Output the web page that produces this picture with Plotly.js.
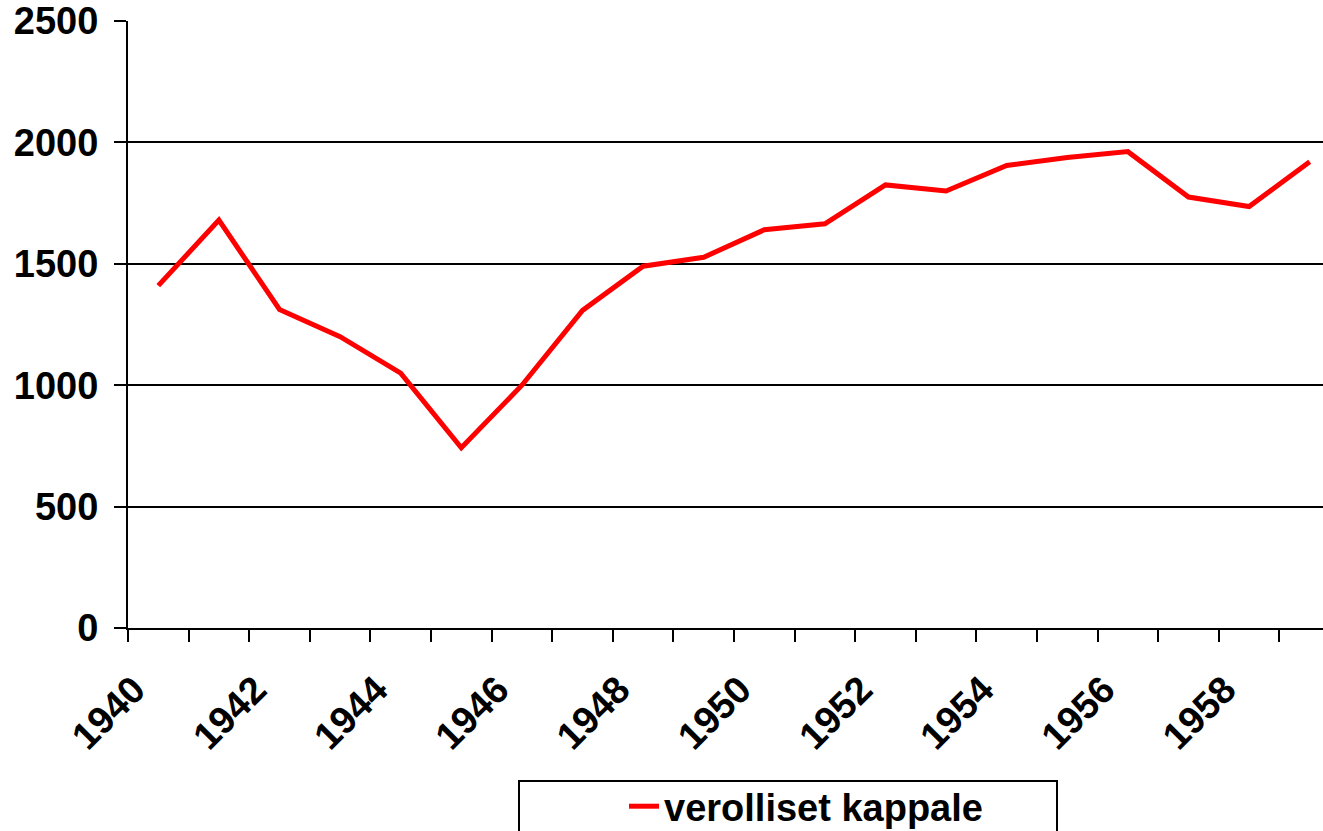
<!DOCTYPE html>
<html>
<head>
<meta charset="utf-8">
<script src="https://cdn.plot.ly/plotly-3.0.1.min.js"></script>
<style>
html,body{margin:0;padding:0;background:#fff;}
#chart{width:1323px;height:831px;}
</style>
</head>
<body>
<div id="chart"></div>
<script>
const years = [1940,1941,1942,1943,1944,1945,1946,1947,1948,1949,1950,1951,1952,1953,1954,1955,1956,1957,1958,1959];
const values = [1410,1680,1312,1200,1050,742,1000,1308,1490,1527,1640,1665,1825,1800,1905,1938,1962,1775,1736,1920];
const seriesName = "verolliset kappale";
const xTickVals = [1940,1942,1944,1946,1948,1950,1952,1954,1956,1958];
const xTickText = ["1940","1942","1944","1946","1948","1950","1952","1954","1956","1958"];
const yTickVals = [0,500,1000,1500,2000,2500];

const fontBold = {family: "Liberation Sans, Arial, sans-serif", size: 38, color: "#000", weight: "bold"};

const trace = {
  x: years, y: values, name: seriesName, type: "scatter", mode: "lines",
  line: {color: "#ff0000", width: 5}
};

const plotLeft = 128, plotRight = 1323, catW = 60.6;
const xMax = 1939.5 + (plotRight - plotLeft) / catW;
const labelShift = 0.4; // Excel-style rotated label placement

const layout = {
  width: 1323, height: 831,
  margin: {l: 128, r: 0, t: 21, b: 203, pad: 0, autoexpand: false},
  paper_bgcolor: "#fff", plot_bgcolor: "#fff",
  font: fontBold,
  showlegend: true,
  xaxis: {
    range: [1939.5, xMax], automargin: false,
    tickmode: "array", tickvals: xTickVals.map(v => v - labelShift), ticktext: xTickText,
    tickangle: -45, ticks: "", showgrid: false, zeroline: false,
    showline: true, linecolor: "#000", linewidth: 2,
    tickfont: fontBold, ticklabelstandoff: 22,
    minor: {tick0: 1939.5, dtick: 1, ticks: "outside", ticklen: 12, tickwidth: 2, tickcolor: "#000", showgrid: false}
  },
  yaxis: {
    range: [0, 2500], automargin: false, tickmode: "array", tickvals: yTickVals,
    ticks: "outside", ticklen: 12, tickwidth: 2, tickcolor: "#000",
    showgrid: true, gridcolor: "#000", gridwidth: 2,
    zeroline: false, showline: true, linecolor: "#000", linewidth: 2,
    tickfont: fontBold, ticklabelstandoff: 8
  },
  legend: {
    orientation: "h", x: (624 - plotLeft) / (plotRight - plotLeft), xanchor: "left",
    y: (628 - 775) / 607, yanchor: "top",
    bgcolor: "rgba(0,0,0,0)", borderwidth: 0,
    font: fontBold
  },
  shapes: [{
    type: "rect", xref: "paper", yref: "paper",
    x0: (519 - plotLeft) / (plotRight - plotLeft), x1: (1057 - plotLeft) / (plotRight - plotLeft),
    y0: (628 - 781) / 607, y1: (628 - 900) / 607,
    line: {color: "#000", width: 2}, fillcolor: "rgba(0,0,0,0)", layer: "below"
  }]
};

Plotly.newPlot("chart", [trace], layout, {displayModeBar: false, staticPlot: true});
</script>
</body>
</html>
